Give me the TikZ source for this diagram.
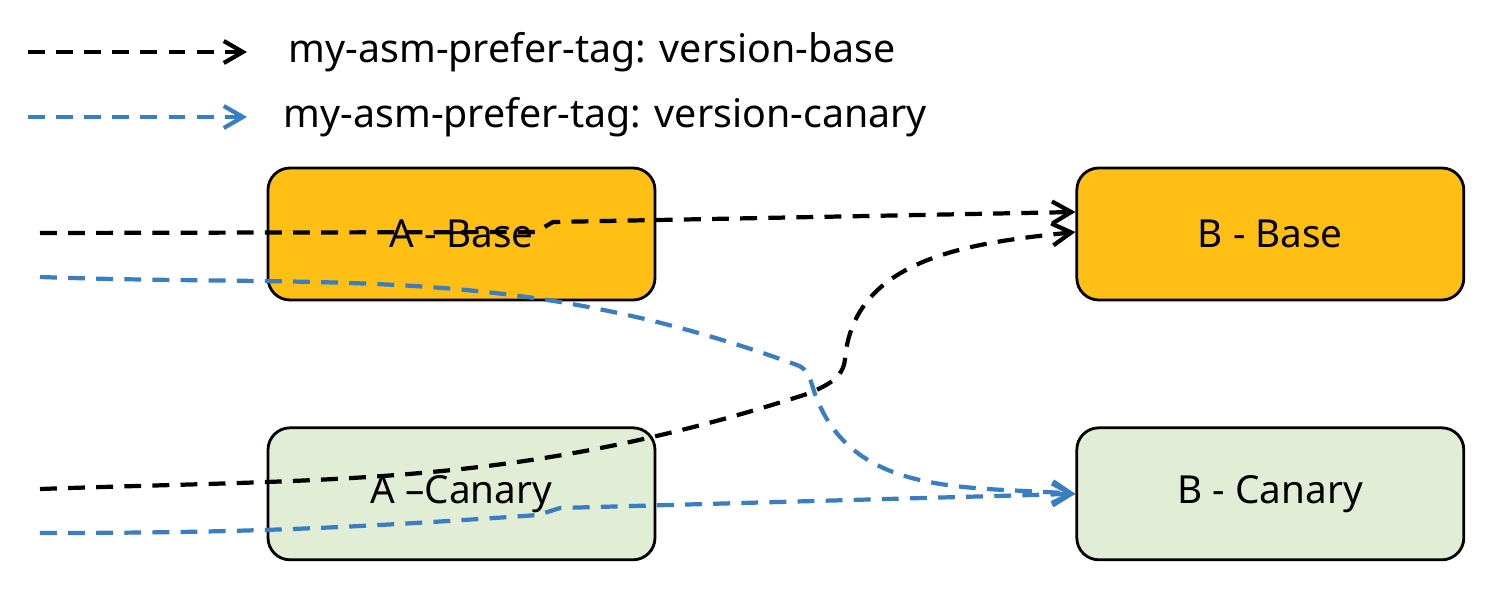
\documentclass[tikz,border=0pt]{standalone}
\usepackage{fontspec}
\setmainfont{Noto Sans}
\usepackage{xcolor}
\usepackage{tikz}
\usetikzlibrary{arrows.meta,positioning,calc}

\definecolor{baseorange}{HTML}{FFBF14}
\definecolor{canarygreen}{HTML}{E2EDD5}
\definecolor{canaryblue}{HTML}{3A7DC0}

\begin{document}
\begin{tikzpicture}[
    component/.style={rectangle, draw, line width=0.8pt, rounded corners=0.22cm, minimum width=3.87cm, minimum height=1.32cm, text centered, font=\fontsize{11}{13}\selectfont},
    basebox/.style={component, fill=baseorange},
    canarybox/.style={component, fill=canarygreen},
    route/.style={dash pattern=on 4.8pt off 3.2pt, line width=1.2pt, -{Straight Barb[length=1.9mm, width=2.2mm]}},
    baseroute/.style={route, color=black},
    canaryroute/.style={route, color=canaryblue},
    legendtext/.style={anchor=west, inner sep=0pt, font=\fontsize{11.2}{13}\selectfont}
]
    \useasboundingbox (0,0) rectangle (15,5.94);

    \coordinate (legbasefrom) at (0.28,5.42);
    \coordinate (legbaseto) at (2.47,5.42);
    \node[legendtext] (legbase) at (2.88,5.42) {my-asm-prefer-tag: version-base};
    \coordinate (legcanaryfrom) at (0.28,4.77);
    \coordinate (legcanaryto) at (2.47,4.77);
    \node[legendtext] (legcanary) at (2.83,4.77) {my-asm-prefer-tag: version-canary};

    \draw[baseroute] (legbasefrom) -- (legbaseto);
    \draw[canaryroute] (legcanaryfrom) -- (legcanaryto);

    \node[basebox] (abase) at (4.615,3.60) {A - Base};
    \node[basebox, right=4.19cm of abase] (bbase) {B - Base};
    \node[canarybox, below=1.25cm of abase] (acanary) {A –Canary};
    \node[canarybox, below=1.25cm of bbase] (bcanary) {B - Canary};

    \coordinate (inbasebase) at (0.40,3.61);
    \coordinate (inbasecanary) at (0.40,3.17);
    \coordinate (incanarybase) at (0.40,1.05);
    \coordinate (incanarycanary) at (0.40,0.61);

    \draw[baseroute] (inbasebase) -- (5.36,3.62) -- (5.53,3.72) -- ([yshift=2.2mm]bbase.west);
    \draw[baseroute] (incanarybase) to[out=2, in=198] (8.10,2.01) to[out=25, in=-95] (8.45,2.35) to[out=85, in=186] ([yshift=0.2mm]bbase.west);
    \draw[canaryroute] (inbasecanary) to[out=-2, in=160] (7.97,2.29) to[out=-20, in=110] (8.15,2.00) to[out=-70, in=176] (bcanary.west);
    \draw[canaryroute] (incanarycanary) to[out=0, in=184] (5.38,0.79) -- (5.60,0.86) -- (bcanary.west);
\end{tikzpicture}
\end{document}
